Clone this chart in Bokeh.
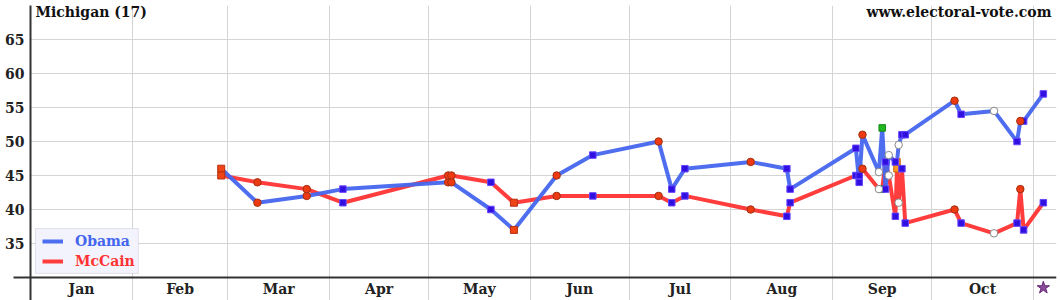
from bokeh.plotting import figure
from bokeh.models import Range1d, FixedTicker, Label, Legend, LegendItem, BoxAnnotation
from bokeh.embed import file_html
from bokeh.resources import INLINE

# ---------------- data ----------------
state_title = "Michigan (17)"
site_name = "www.electoral-vote.com"

month_names = ["Jan", "Feb", "Mar", "Apr", "May", "Jun", "Jul", "Aug", "Sep", "Oct"]
month_starts = [0, 31, 60, 91, 121, 152, 182, 213, 244, 274, 305]   # day of year (2008)
y_ticks = [35, 40, 45, 50, 55, 60, 65]

# poll dates as day-of-year (Jan 1 = 0)
poll_day = [58, 69, 84, 95, 127, 128, 140, 147, 160, 171, 191, 195, 199, 219, 230, 231,
            251, 252, 253, 258, 259, 260, 261, 263, 263.5, 264, 265, 266,
            281, 283, 293, 300, 301, 302, 308]
obama = [46, 41, 42, 43, 44, 44, 40, 37, 45, 48, 50, 43, 46, 47, 46, 43,
         49, 44, 51, 45.5, 52, 43, 48, 47, 47, 49.5, 51, 51,
         56, 54, 54.5, 50, 53, 53, 57]
mccain = [45, 44, 43, 41, 45, 45, 44, 41, 42, 42, 42, 41, 42, 40, 39, 41,
          45, 45, 46, 43, 43, 47, 45, 39, 46, 41, 46, 38,
          40, 38, 36.5, 38, 43, 37, 41]
poll_kind = ["rsquare", "circle", "circle", "square", "circle", "circle", "square", "rsquare",
             "circle", "square", "circle", "square", "square", "circle", "square", "square",
             "square", "square", "circle", "open", "green", "square", "open", "square",
             "orange", "open", "square", "square",
             "circle", "square", "open", "square", "circle", "square", "square"]
election_day = 308
election_marker_y = 28.5

# ---------------- styles ----------------
OBAMA_COLOR = "#4466ee"
MCCAIN_COLOR = "#ff3333"
FONT = "DejaVu Serif"
kind_style = {
    "green":   dict(marker="square", size=6.5, fill_color="#22b822", line_color="#118811"),
    "orange":  dict(marker="square", size=6.5, fill_color="#ff9922", line_color="#cc6600"),
    "rsquare": dict(marker="square", size=7, fill_color="#ee4416", line_color="#b83010"),
    "square":  dict(marker="square", size=6.5, fill_color="#3010e0", line_color="#6644ff"),
    "circle":  dict(marker="circle", size=7.5, fill_color="#ee3a12", line_color="#a03010"),
    "open":    dict(marker="circle", size=7.5, fill_color="#ffffff", line_color="#888888"),
}

p = figure(width=1060, height=300, output_backend="svg", toolbar_location=None,
           x_range=Range1d(0, 312), y_range=Range1d(26.62, 70),
           min_border_left=30, min_border_right=4, min_border_top=5, min_border_bottom=0)
p.outline_line_color = None
p.background_fill_color = "white"

# grids
p.xgrid.ticker = FixedTicker(ticks=month_starts[1:])
p.xgrid.grid_line_color = "#d4d4d4"
p.ygrid.grid_line_color = "#d4d4d4"

# x axis (sits at y = 30 inside the frame)
xa = p.xaxis[0]
month_mids = [(month_starts[i] + month_starts[i + 1]) / 2 for i in range(len(month_names))]
xa.fixed_location = 30
xa.ticker = FixedTicker(ticks=month_mids)
xa.major_label_overrides = {m: n for m, n in zip(month_mids, month_names)}
xa.major_tick_line_color = None
xa.major_tick_out = 0
xa.major_tick_in = 0
xa.minor_tick_line_color = None
xa.axis_line_color = "#333333"
xa.axis_line_width = 2
xa.major_label_standoff = 3
xa.major_label_text_font = FONT
xa.major_label_text_font_style = "bold"
xa.major_label_text_font_size = "14px"
xa.major_label_text_color = "#222222"

# y axis
ya = p.yaxis[0]
ya.ticker = FixedTicker(ticks=y_ticks, minor_ticks=[30])
ya.major_tick_line_color = None
ya.major_tick_out = 0
ya.major_tick_in = 0
ya.minor_tick_in = 0
ya.minor_tick_out = 17
ya.minor_tick_line_color = "#333333"
ya.minor_tick_line_width = 2
ya.axis_line_color = "#333333"
ya.axis_line_width = 2
ya.major_label_standoff = -11
ya.major_label_text_font = FONT
ya.major_label_text_font_style = "bold"
ya.major_label_text_font_size = "14px"
ya.major_label_text_color = "#222222"

# lines
r_mc = p.line(poll_day, mccain, line_color=MCCAIN_COLOR, line_width=4, line_alpha=0.95)
r_ob = p.line(poll_day, obama, line_color=OBAMA_COLOR, line_width=4, line_alpha=0.95)

# markers
for kind, st in kind_style.items():
    xs = [d for d, k in zip(poll_day, poll_kind) if k == kind]
    for series in (obama, mccain):
        ys = [v for v, k in zip(series, poll_kind) if k == kind]
        p.scatter(xs, ys, line_width=1, **st)

# election day star
p.scatter([election_day], [election_marker_y], marker="star", size=13,
          fill_color="#8a4a99", line_color="#6a2a7a", line_width=1)

# legend box
p.add_layout(BoxAnnotation(left=1.5, right=32.8, bottom=30.6, top=37.2,
                           fill_color="#f3f3fd", fill_alpha=1,
                           line_color="#a8a8b8", line_width=1, level="annotation"))
for item_label, rend, col, loc in (("Obama", r_ob, OBAMA_COLOR, (12, 49)),
                                   ("McCain", r_mc, MCCAIN_COLOR, (12, 29))):
    lg = Legend(items=[LegendItem(label=item_label, renderers=[rend])], location=loc,
                padding=0, margin=0, spacing=0, glyph_width=21, glyph_height=20,
                label_height=20, label_standoff=12, border_line_color=None,
                background_fill_alpha=0, label_text_font=FONT,
                label_text_font_style="bold", label_text_font_size="14px",
                label_text_color=col)
    p.add_layout(lg)

# texts
p.add_layout(Label(x=0, y=70, x_offset=5, y_offset=2, text=state_title, text_baseline="top",
                   text_font=FONT, text_font_style="bold", text_font_size="14px",
                   text_color="#111111"))
p.add_layout(Label(x=312, y=70, x_offset=-5, y_offset=2, text=site_name, text_align="right",
                   text_baseline="top", text_font=FONT, text_font_style="bold",
                   text_font_size="14px", text_color="#111111"))

open("out.html", "w").write(file_html(p, INLINE))
